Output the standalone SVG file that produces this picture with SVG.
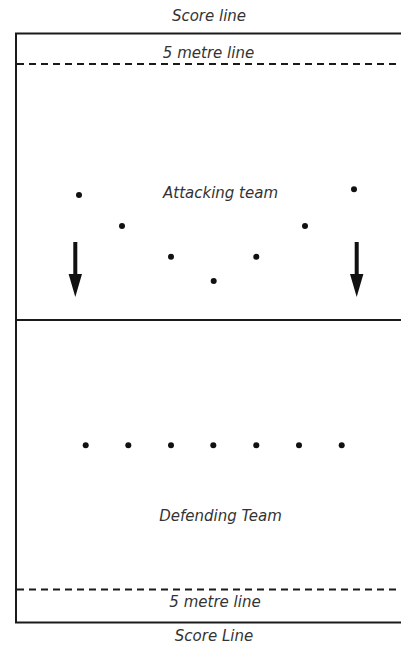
<svg xmlns="http://www.w3.org/2000/svg" width="401" height="652" viewBox="0 0 401 652">
<style>
.lbl{font-family:"DejaVu Sans",Verdana,sans-serif;font-style:italic;font-size:15px;fill:#333;text-anchor:middle}
.line{stroke:#1a1a1a;stroke-width:2;fill:none}
.dash{stroke:#1a1a1a;stroke-width:2;stroke-dasharray:7 5;fill:none}
.dot{fill:#111}
.arrow{fill:#111}
</style>
<rect width="401" height="652" fill="#fff"/>
<g id="field">
<rect class="line" x="16" y="33.5" width="400" height="589"/>
<line class="dash" x1="17" y1="64" x2="401" y2="64"/>
<line class="line" x1="17" y1="320" x2="401" y2="320"/>
<line class="dash" x1="17" y1="589.5" x2="401" y2="589.5"/>
</g>
<g id="labels">
<text class="lbl" x="209" y="20.5">Score line</text>
<text class="lbl" x="208.5" y="58">5 metre line</text>
<text class="lbl" x="220.5" y="197.5">Attacking team</text>
<text class="lbl" x="220.5" y="521">Defending Team</text>
<text class="lbl" x="215" y="607">5 metre line</text>
<text class="lbl" x="214" y="641">Score Line</text>
</g>
<g id="attacking-team">
<circle class="dot" cx="79" cy="195" r="3"/>
<circle class="dot" cx="122" cy="226" r="3"/>
<circle class="dot" cx="171" cy="256.7" r="3"/>
<circle class="dot" cx="213.7" cy="281" r="3"/>
<circle class="dot" cx="256.3" cy="256.7" r="3"/>
<circle class="dot" cx="305" cy="226" r="3"/>
<circle class="dot" cx="354" cy="189.3" r="3"/>
</g>
<g id="defending-team">
<circle class="dot" cx="85.7" cy="445.3" r="3"/>
<circle class="dot" cx="128.3" cy="445.3" r="3"/>
<circle class="dot" cx="171" cy="445.3" r="3"/>
<circle class="dot" cx="213.3" cy="445.3" r="3"/>
<circle class="dot" cx="256.3" cy="445.3" r="3"/>
<circle class="dot" cx="299" cy="445.3" r="3"/>
<circle class="dot" cx="341.7" cy="445.3" r="3"/>
</g>
<g id="connectors">
<path class="arrow" d="M73.3 242 H77.3 V274 H82 L75.3 297 L68.6 274 H73.3 Z"/>
<path class="arrow" d="M354.7 242 H358.7 V274 H363.4 L356.7 297 L350 274 H354.7 Z"/>
</g>
</svg>
